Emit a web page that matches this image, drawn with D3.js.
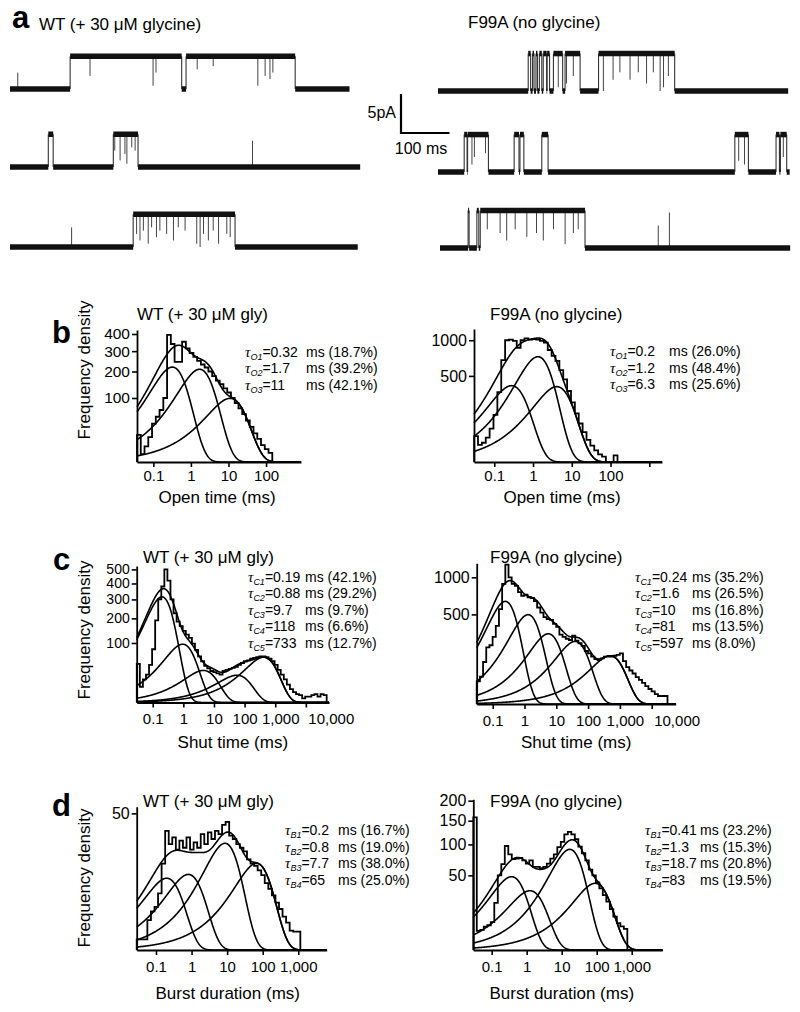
<!DOCTYPE html>
<html><head><meta charset="utf-8">
<script src="https://cdn.jsdelivr.net/npm/d3@7"></script>
<style>body{margin:0;background:#fff}</style>
</head><body>
<script>
// ================= DATA =================
// ---- panel a: single-channel records (times in ms, depth/height as fraction of unitary amplitude)
const wtTitle = "WT (+ 30 \u03bcM glycine)";
const f99Title = "F99A (no glycine)";
const wtAmp = 4.2, f99Amp = 4.8;           // pA
const wtDur = [700, 722, 717];
const f99Dur = [722, 725, 722];

const wt1Open = [[124,354],[363,588]];
const wt1Close = [[165,.6],[295,.9],[301,.5],[386,.4],[419,.3],[511,.9],[526,.6],[536,.7],[542,.5]];
const wt1Spike = [[16,.5]];
const wt2Open = [[79,89],[213,264]];
const wt2Close = [[216,.5],[227,.8],[237,.6],[241,.9],[251,.4],[258,.5]];
const wt2Spike = [[500,.8]];
const wt3Open = [[254,464]];
const wt3Close = [[261,.6],[268,.8],[275,.5],[285,.9],[292,.4],[302,.7],[309,.5],[323,.6],[337,.8],[347,.4],[361,.5],[385,.9],[392,1],[399,.6],[409,.8],[419,.5],[430,.9],[447,.6],[454,.7]];
const wt3Spike = [[127,.6]];

const f1Open = [[186,191],[195,198],[202,205],[209,214],[217,224],[225,230],[238,257],[262,293],[331,488]];
const f1Close = [[248,.9],[265,.8],[279,.6],[341,1],[361,.7],[375,.5],[396,.7],[413,.5],[430,.8],[444,.5],[458,1],[465,.9],[475,.6]];
const f1Spike = [];
const f2Open = [[54,60],[61,104],[157,167],[169,177],[214,227],[612,640],[697,704],[706,719]];
const f2Close = [[70,.8],[75,.6],[98,.5],[620,.7],[632,.8],[712,.6]];
const f2Spike = [];
const f3Open = [[58,60],[76,80],[83,299]];
const f3Close = [[97.5,.5],[124,.6],[137.5,.8],[155,.5],[179,.7],[199,.6],[213,.8],[234,.5],[258,.9],[275,.6],[285,.5]];
const f3Spike = [[450,.6],[473,.95]];

// ---- histograms (frequency density per 0.1-decade bin; first bin left edge = 10^start)
const openWT_start = -1.434;
const openWT_hist = [18,1.5,6,15,36,50,66,100,394,340,245,245,353,315,290,270,250,232,218,200,180,162,148,132,118,100,85,70,56,42,30,20,13,7,4,2];
const openF99_start = -1.52;
const openF99_hist = [45,20,25,40,75,150,330,700,1000,1010,990,880,1000,1030,1010,1020,1010,990,960,846,760,690,570,460,340,240,160,100,60,33,18,9,4,2,0,0,3];
const shutWT_start = -1.52;
const shutWT_hist = [42,7,15,22,40,80,190,300,380,500,420,300,225,185,165,145,130,118,98,78,60,48,38,33,28,26,24,22,28,30,32,34,36,40,44,48,50,54,56,58,60,60,58,54,48,40,30,22,15,9,5,3,2,1.5,0.5,1,1,1.5,2,1,2,1.5];
const shutF99_start = -1.503;
const shutF99_hist = [32,47,110,200,215,280,380,560,900,1210,1000,900,870,780,730,745,710,700,660,580,520,470,450,440,400,370,300,280,265,255,290,250,230,210,175,160,140,125,120,130,140,140,140,145,150,160,115,85,70,58,45,36,28,20,14,10,6,4,4,4];
const burstWT_start = -1.542;
const burstWT_hist = [0.3,0.3,0.3,2.4,4,5,8.6,20,38,30,34,27,32,28,34,27,31,28,36,30,37,33,38,36,42,44,35,33,30,28,26,22,20,19,17,15,12,10,8,6,4.5,3,2,1,0.9,0.9];
const burstF99_start = -1.525;
const burstF99_hist = [158,3.3,3.6,4.9,5.5,7,20,50,66,97,82,74,75,76,72,67,72,62,62,60,62,67,75,82,95,105,120,125,120,110,96,84,72,58,50,41,34,27,21,15,10,6.5,5,4];

// ---- fitted exponential components: time constant (ms) and peak height
const openWT_tau = [0.32, 1.7, 11],      openWT_peak = [220, 210, 99];
const openF99_tau = [0.28, 1.34, 4.1],   openF99_peak = [393, 748, 383];
const shutWT_tau = [0.2, 0.95, 4.5, 56, 420], shutWT_peak = [315, 96, 29, 21, 58];
const shutF99_tau = [0.25, 1.3, 5.6, 39, 490], shutF99_peak = [656, 497, 307, 244, 145];
const burstWT_tau = [0.2, 0.81, 8.7, 67], burstWT_peak = [13.8, 15.3, 30.5, 20.1];
const burstF99_tau = [0.37, 1.24, 17, 90], burstF99_peak = [48.2, 31.5, 90.9, 39.9];

// ---- fit-result annotations
const openWT_sub = ["O1","O2","O3"], openWT_val = ["0.32","1.7","11"], openWT_pct = ["18.7%","39.2%","42.1%"];
const openF99_sub = ["O1","O2","O3"], openF99_val = ["0.2","1.2","6.3"], openF99_pct = ["26.0%","48.4%","25.6%"];
const shutWT_sub = ["C1","C2","C3","C4","C5"], shutWT_val = ["0.19","0.88","9.7","118","733"], shutWT_pct = ["42.1%","29.2%","9.7%","6.6%","12.7%"];
const shutF99_sub = ["C1","C2","C3","C4","C5"], shutF99_val = ["0.24","1.6","10","81","597"], shutF99_pct = ["35.2%","26.5%","16.8%","13.5%","8.0%"];
const burstWT_sub = ["B1","B2","B3","B4"], burstWT_val = ["0.2","0.8","7.7","65"], burstWT_pct = ["16.7%","19.0%","38.0%","25.0%"];
const burstF99_sub = ["B1","B2","B3","B4"], burstF99_val = ["0.41","1.3","18.7","83"], burstF99_pct = ["23.2%","15.3%","20.8%","19.5%"];

// ---- axis ticks
const openWT_yTicks = [100,200,300,400], openF99_yTicks = [500,1000];
const shutWT_yTicks = [100,200,300,400,500], shutF99_yTicks = [500,1000];
const burstWT_yTicks = [50], burstF99_yTicks = [50,100,150,200];
const openWT_xTicks = [0.1,1,10,100], openF99_xTicks = [0.1,1,10,100,1000], openF99_xLabels = [0.1,1,10,100];
const shut_xTicks = [0.1,1,10,100,1000,10000];
const burst_xTicks = [0.1,1,10,100,1000];
const panelTitleWT = "WT (+ 30 \u03bcM gly)", panelTitleF99 = "F99A (no glycine)";
const yTitle = "Frequency density";
const xTitles = ["Open time (ms)", "Shut time (ms)", "Burst duration (ms)"];

// ================= DRAWING =================
const FONT = "'Liberation Sans', Arial, Helvetica, sans-serif";
const SERIF = "'Liberation Serif', 'Times New Roman', serif";
const svg = d3.select("body").append("svg").attr("width", 800).attr("height", 1012)
  .style("font-family", FONT).style("background", "#fff");

function txt(x, y, s, size, opts = {}) {
  const t = svg.append("text").attr("x", x).attr("y", y).attr("font-size", size)
    .attr("font-family", FONT).attr("fill", "#000").text(s);
  if (opts.anchor) t.attr("text-anchor", opts.anchor);
  if (opts.weight) t.attr("font-weight", opts.weight);
  if (opts.rotate) t.attr("transform", `rotate(-90,${x},${y})`);
  return t;
}

// panel labels
txt(12, 28, "a", 31, {weight: "bold"});
txt(52, 343, "b", 31, {weight: "bold"});
txt(53, 570, "c", 31, {weight: "bold"});
txt(52, 816, "d", 31, {weight: "bold"});

// ---- panel a
txt(39, 30, wtTitle, 17);
txt(468, 28, f99Title, 17);

const msScale = d3.scaleLinear().domain([0, 100]).range([0, 48.5]);
const pAScale = d3.scaleLinear().domain([0, 5]).range([0, 39]);

function drawTrace(x0, base, ampPA, dur, opens, closes, spikes) {
  const g = svg.append("g");
  const X = t => x0 + msScale(t);
  const amp = pAScale(ampPA), top = base - amp;
  const segs = []; let t = 0;
  opens.forEach(([a, b]) => { segs.push([t, a, base]); segs.push([a, b, top]); t = b; });
  segs.push([t, dur, base]);
  g.selectAll(null).data(opens.flatMap(d => d)).join("line")
    .attr("x1", d => X(d)).attr("x2", d => X(d)).attr("y1", base).attr("y2", top)
    .attr("stroke", "#333").attr("stroke-width", 1.1);
  g.selectAll(null).data(closes).join("line")
    .attr("x1", d => X(d[0])).attr("x2", d => X(d[0])).attr("y1", top).attr("y2", d => top + d[1] * amp)
    .attr("stroke", "#444").attr("stroke-width", 1);
  g.selectAll(null).data(spikes).join("line")
    .attr("x1", d => X(d[0])).attr("x2", d => X(d[0])).attr("y1", base).attr("y2", d => base - d[1] * amp)
    .attr("stroke", "#444").attr("stroke-width", 1);
  g.selectAll(null).data(segs.filter(s => s[1] > s[0])).join("line")
    .attr("x1", d => X(d[0])).attr("x2", d => X(d[1])).attr("y1", d => d[2]).attr("y2", d => d[2])
    .attr("stroke", "#111").attr("stroke-width", 5.5);
}
drawTrace(10, 89, wtAmp, wtDur[0], wt1Open, wt1Close, wt1Spike);
drawTrace(10, 167, wtAmp, wtDur[1], wt2Open, wt2Close, wt2Spike);
drawTrace(10, 247, wtAmp, wtDur[2], wt3Open, wt3Close, wt3Spike);
drawTrace(438, 91, f99Amp, f99Dur[0], f1Open, f1Close, f1Spike);
drawTrace(438, 172, f99Amp, f99Dur[1], f2Open, f2Close, f2Spike);
drawTrace(440, 248, f99Amp, f99Dur[2], f3Open, f3Close, f3Spike);

// scale bar
const sbx = 401, sby = 133;
svg.append("path").attr("d", `M${sbx},${sby - pAScale(5)}V${sby}H${sbx + msScale(100)}`)
  .attr("fill", "none").attr("stroke", "#000").attr("stroke-width", 2.2);
txt(396, 118, "5pA", 16, {anchor: "end"});
txt(421, 154, "100 ms", 16, {anchor: "middle"});

// ---- histogram panels
function tauBlock(xs, xm, y0, subs, vals, pcts) {
  subs.forEach((s, i) => {
    const y = y0 + i * 16.5;
    const t = svg.append("text").attr("x", xs).attr("y", y).attr("font-family", FONT).attr("font-size", 14);
    t.append("tspan").attr("font-family", SERIF).attr("font-style", "italic").attr("font-size", 15).text("\u03c4");
    t.append("tspan").attr("font-style", "italic").attr("font-size", 9).attr("dy", 3).text(s);
    t.append("tspan").attr("dy", -3).text("=" + vals[i]);
    txt(xm, y, "ms (" + pcts[i] + ")", 14);
  });
}

function panel(c) {
  const g = svg.append("g");
  const x = d3.scaleLog().domain(c.xDomain).range([c.left, c.right]);
  const y = d3.scaleSqrt().domain([0, c.yMax]).range([c.base, c.top]);
  const line = d3.line().x(d => x(d[0])).y(d => y(Math.max(0, d[1])));
  // histogram (step outline)
  const edge = i => Math.pow(10, c.start + i * 0.1);
  const pts = [[edge(0), 0]];
  c.hist.forEach((v, i) => { pts.push([edge(i), v]); pts.push([edge(i + 1), v]); });
  pts.push([edge(c.hist.length), 0]);
  g.append("path").attr("d", line(pts)).attr("fill", "none").attr("stroke", "#000")
    .attr("stroke-width", 1.8).attr("stroke-linejoin", "miter");
  // fitted components and total
  const [lo, hi] = c.xDomain.map(Math.log10);
  const ts = d3.range(0, 401).map(i => Math.pow(10, lo + (hi - lo) * i / 400));
  const comp = (k, t) => c.peaks[k] * (t / c.taus[k]) * Math.exp(1 - t / c.taus[k]);
  c.taus.forEach((tau, k) => {
    g.append("path").attr("d", line(ts.map(t => [t, comp(k, t)])))
      .attr("fill", "none").attr("stroke", "#000").attr("stroke-width", 1.6);
  });
  g.append("path").attr("d", line(ts.map(t => [t, d3.sum(c.taus, (_, k) => comp(k, t))])))
    .attr("fill", "none").attr("stroke", "#000").attr("stroke-width", 1.6);
  // axes
  const fmt = d3.format(",");
  const xa = g.append("g").attr("transform", `translate(0,${c.base})`)
    .call(d3.axisBottom(x).tickValues(c.xTicks).tickSize(5).tickSizeOuter(0).tickPadding(c.xPad)
      .tickFormat(d => (c.xLabels || c.xTicks).includes(d) ? fmt(d) : ""));
  const ya = g.append("g").attr("transform", `translate(${c.left},0)`)
    .call(d3.axisLeft(y).tickValues(c.yTicks).tickSize(5).tickSizeOuter(0).tickPadding(2).tickFormat(d3.format("d")));
  [xa, ya].forEach(a => {
    a.select(".domain").attr("stroke", "#000").attr("stroke-width", 1.8);
    a.selectAll(".tick line").attr("stroke", "#000").attr("stroke-width", 1.6);
    a.selectAll("text").attr("fill", "#000").attr("font-family", FONT);
  });
  xa.selectAll("text").attr("font-size", 15);
  ya.selectAll("text").attr("font-size", c.yFont || 16);
  if (c.shiftBig) {
    xa.selectAll(".tick text").filter(d => d === 1000).attr("dx", 5);
    xa.selectAll(".tick text").filter(d => d === 10000).attr("text-anchor", "start").attr("x", 2);
  }
  // texts
  txt(c.titleX, c.titleY, c.title, 17);
  txt((c.left + c.right) / 2 + c.xtDx, c.xtY, c.xTitle, 17, {anchor: "middle"});
  if (c.yTitleY) txt(90, c.yTitleY, yTitle, 17, {anchor: "middle", rotate: true});
  tauBlock(c.tx, c.tm, c.ty, c.subs, c.vals, c.pcts);
}

panel({xDomain: [0.0368, 851], left: 137, right: 301, base: 462, top: 330, yMax: 425.4,
  start: openWT_start, hist: openWT_hist, taus: openWT_tau, peaks: openWT_peak,
  xTicks: openWT_xTicks, yTicks: openWT_yTicks, xPad: 3, yFont: 15.5,
  title: panelTitleWT, titleX: 137, titleY: 320, xTitle: xTitles[0], xtY: 503, xtDx: -2, yTitleY: 370,
  tx: 245, tm: 306, ty: 356.5, subs: openWT_sub, vals: openWT_val, pcts: openWT_pct});
panel({xDomain: [0.030, 2130], left: 474, right: 662, base: 462, top: 329, yMax: 1193,
  start: openF99_start, hist: openF99_hist, taus: openF99_tau, peaks: openF99_peak,
  xTicks: openF99_xTicks, xLabels: openF99_xLabels, yTicks: openF99_yTicks, xPad: 3,
  title: panelTitleF99, titleX: 490, titleY: 320, xTitle: xTitles[0], xtY: 503, xtDx: -6,
  tx: 610, tm: 669, ty: 356, subs: openF99_sub, vals: openF99_val, pcts: openF99_pct});
panel({xDomain: [0.030, 57000], left: 136.7, right: 329, base: 702.5, top: 566, yMax: 526,
  start: shutWT_start, hist: shutWT_hist, taus: shutWT_tau, peaks: shutWT_peak,
  xTicks: shut_xTicks, yTicks: shutWT_yTicks, xPad: 6, shiftBig: true, yFont: 14,
  title: panelTitleWT, titleX: 143, titleY: 563, xTitle: xTitles[1], xtY: 748, xtDx: 0, yTitleY: 630,
  tx: 248, tm: 305, ty: 581.5, subs: shutWT_sub, vals: shutWT_val, pcts: shutWT_pct});
panel({xDomain: [0.0314, 56900], left: 476.7, right: 675.7, base: 704, top: 563.3, yMax: 1233,
  start: shutF99_start, hist: shutF99_hist, taus: shutF99_tau, peaks: shutF99_peak,
  xTicks: shut_xTicks, yTicks: shutF99_yTicks, xPad: 6, shiftBig: true,
  title: panelTitleF99, titleX: 490, titleY: 563, xTitle: xTitles[1], xtY: 748, xtDx: 0,
  tx: 635, tm: 692, ty: 581.5, subs: shutF99_sub, vals: shutF99_val, pcts: shutF99_pct});
panel({xDomain: [0.0287, 6300], left: 136.7, right: 326.7, base: 950, top: 806.7, yMax: 55,
  start: burstWT_start, hist: burstWT_hist, taus: burstWT_tau, peaks: burstWT_peak,
  xTicks: burst_xTicks, yTicks: burstWT_yTicks, xPad: 6,
  title: panelTitleWT, titleX: 143, titleY: 807, xTitle: xTitles[2], xtY: 999, xtDx: -4, yTitleY: 878,
  tx: 285, tm: 338, ty: 835, subs: burstWT_sub, vals: burstWT_val, pcts: burstWT_pct});
panel({xDomain: [0.0299, 7480], left: 473.3, right: 662.3, base: 950, top: 799.3, yMax: 203.7,
  start: burstF99_start, hist: burstF99_hist, taus: burstF99_tau, peaks: burstF99_peak,
  xTicks: burst_xTicks, yTicks: burstF99_yTicks, xPad: 6,
  title: panelTitleF99, titleX: 490, titleY: 807, xTitle: xTitles[2], xtY: 999, xtDx: -6,
  tx: 645, tm: 700, ty: 835, subs: burstF99_sub, vals: burstF99_val, pcts: burstF99_pct});
</script>
</body></html>
